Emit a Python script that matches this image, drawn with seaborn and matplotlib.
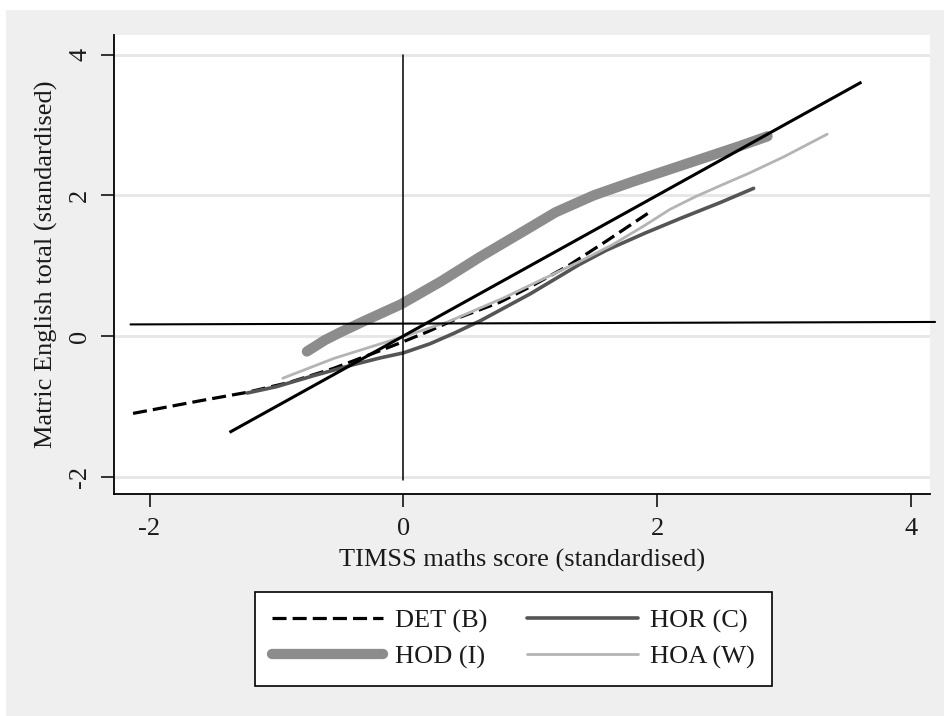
import matplotlib
matplotlib.use("Agg")
import matplotlib.pyplot as plt
from matplotlib.patches import Rectangle
import numpy as np
import pandas as pd
import seaborn as sns

# Smoothed relationships between TIMSS maths score and matric English score
det_x = [-2.13, -1.6, -1.23, -0.9, -0.55, -0.2, 0.0, 0.19, 0.45, 0.76, 1.0, 1.3, 1.6, 1.94]
det_y = [-1.1, -0.92, -0.8, -0.66, -0.46, -0.22, -0.08, 0.06, 0.27, 0.48, 0.7, 1.0, 1.35, 1.76]

hod_x = [-0.76, -0.62, -0.5, -0.3, -0.02, 0.3, 0.6, 0.92, 1.2, 1.5, 1.8, 2.1, 2.4, 2.65, 2.87]
hod_y = [-0.22, -0.06, 0.05, 0.22, 0.45, 0.78, 1.12, 1.46, 1.76, 2.0, 2.19, 2.37, 2.55, 2.7, 2.84]

hor_x = [-1.23, -1.0, -0.7, -0.4, -0.18, 0.0, 0.21, 0.4, 0.61, 1.0, 1.39, 1.6, 1.9, 2.18, 2.5, 2.76]
hor_y = [-0.81, -0.72, -0.56, -0.41, -0.31, -0.24, -0.11, 0.04, 0.22, 0.6, 1.02, 1.22, 1.46, 1.67, 1.9, 2.1]

hoa_x = [-0.95, -0.55, -0.02, 0.35, 0.8, 1.39, 1.65, 1.9, 2.1, 2.3, 2.5, 2.73, 3.0, 3.34]
hoa_y = [-0.6, -0.32, -0.02, 0.2, 0.55, 1.06, 1.3, 1.57, 1.8, 1.98, 2.14, 2.32, 2.55, 2.87]

labels = ["DET (B)", "HOD (I)", "HOR (C)", "HOA (W)"]

# Reference lines: 45-degree line, mean English line, zero maths line
diag_x = [-1.37, 3.61]
diag_y = [-1.37, 3.61]
hline_x = [-2.15, 4.19]
hline_y = [0.165, 0.2]
vline_x = [0.0, 0.0]
vline_y = [-2.05, 4.0]

xticks = [-2, 0, 2, 4]
yticks = [-2, 0, 2, 4]

sns.set_style("ticks")
plt.rcParams["font.family"] = ["Liberation Serif", "DejaVu Serif"]
plt.rcParams["font.size"] = 19

W, H = 944, 716
fig = plt.figure(figsize=(W / 100, H / 100), dpi=100, facecolor="white")
fig.patches.append(Rectangle((6 / W, 0), 1, (H - 10) / H, transform=fig.transFigure,
                             facecolor="#EFEFEF", edgecolor="none", zorder=-10))

ax = fig.add_axes([114 / W, (H - 494) / H, (930 - 114) / W, (494 - 35) / H])
ax.set_facecolor("white")

for yv in yticks:
    ax.axhline(yv, color="#E6E6E6", lw=2.0, zorder=0)

series = [
    (det_x, det_y, dict(color="black", lw=2.3, ls=(0, (4.4, 1.9)))),
    (hod_x, hod_y, dict(color="#8C8C8C", lw=7.4, solid_capstyle="round", solid_joinstyle="round")),
    (hor_x, hor_y, dict(color="#555555", lw=2.6, solid_capstyle="round", solid_joinstyle="round")),
    (hoa_x, hoa_y, dict(color="#B4B4B4", lw=2.0, solid_capstyle="round", solid_joinstyle="round")),
]
handles = []
for (xs, ys, kw), lab in zip(series, labels):
    df = pd.DataFrame({"x": xs, "y": ys})
    sns.lineplot(data=df, x="x", y="y", ax=ax, estimator=None, sort=False, label=lab, **kw)
    handles.append(ax.lines[-1])

ax.plot(diag_x, diag_y, color="black", lw=2.2, solid_capstyle="butt")
ax.plot(hline_x, hline_y, color="black", lw=1.5, clip_on=False)
ax.plot(vline_x, vline_y, color="black", lw=1.1)

ax.set_xlim(-2.28, 4.15)
ax.set_ylim(-2.246, 4.28)
ax.set_xticks(xticks)
ax.set_yticks(yticks)
ax.set_xticklabels([str(v) for v in xticks])
ax.set_yticklabels([str(v) for v in yticks], rotation=90, va="center")

for side in ["top", "right"]:
    ax.spines[side].set_visible(False)
for side in ["left", "bottom"]:
    ax.spines[side].set_color("black")
    ax.spines[side].set_linewidth(1.3)

ax.tick_params(axis="both", direction="out", length=9.4, width=1.1, color="black",
               labelsize=19, labelcolor="#1a1a1a")
ax.tick_params(axis="x", pad=8)
ax.tick_params(axis="y", pad=7)

ax.set_xlabel("TIMSS maths score (standardised)", fontsize=19, labelpad=6, color="#1a1a1a")
ax.set_ylabel("Matric English total (standardised)", fontsize=19, labelpad=8, color="#1a1a1a")

if ax.get_legend() is not None:
    ax.get_legend().remove()

leg = fig.legend(handles, labels, loc="center", bbox_to_anchor=(513.5 / W, (H - 639) / H),
                 ncol=2, frameon=True, fancybox=False, framealpha=1, edgecolor="black",
                 fontsize=19, handlelength=4.2, handletextpad=0.45, columnspacing=1.5,
                 labelspacing=0.45, borderpad=0.66)
leg.get_frame().set_linewidth(1.2)
for t in leg.get_texts():
    t.set_color("#1a1a1a")

fig.savefig("out.png", dpi=100, facecolor=fig.get_facecolor())
